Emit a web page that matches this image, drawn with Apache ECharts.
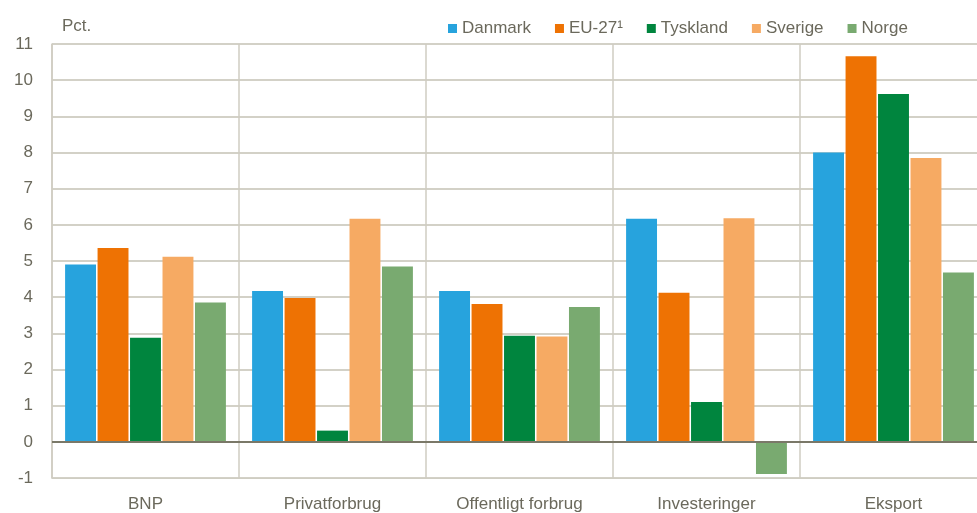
<!DOCTYPE html>
<html>
<head>
<meta charset="utf-8">
<script src="https://cdn.jsdelivr.net/npm/echarts@6/dist/echarts.min.js"></script>
<style>
  html, body { margin: 0; padding: 0; background: #fff; overflow: hidden; }
  #chart { width: 987px; height: 513px; }
</style>
</head>
<body>
<div id="chart"></div>
<script>
const categories = ["BNP", "Privatforbrug", "Offentligt forbrug", "Investeringer", "Eksport"];

const danmark = [4.9, 4.17, 4.17, 6.17, 8.0];
const eu27 = [5.36, 3.98, 3.81, 4.12, 10.66];
const tyskland = [2.88, 0.31, 2.93, 1.1, 9.62];
const sverige = [5.12, 6.17, 2.91, 6.18, 7.85];
const norge = [3.85, 4.85, 3.73, -0.89, 4.68];

const yTicks = [-1, 11, 1]; // min, max, interval

const textColor = "#6b695c";
const font = "'Liberation Sans', Arial, sans-serif";
const fontSize = 17;

// diagrammet er lidt bredere end vinduet, så sidste søjle skæres af som i originalen
const chart = echarts.init(document.getElementById("chart"));

function bar(name, data, color) {
  return {
    name: name,
    type: "bar",
    data: data,
    barGap: "5%",
    barCategoryGap: "14%",
    itemStyle: { color: color },
  };
}

const series = [
  bar("Danmark", danmark, "#27a3dd"),
  bar("EU-27¹", eu27, "#ee7203"),
  bar("Tyskland", tyskland, "#00853e"),
  bar("Sverige", sverige, "#f6aa63"),
  bar("Norge", norge, "#79aa70"),
];

// nul-linjen
series[0].markLine = {
  silent: true,
  symbol: "none",
  label: { show: false },
  lineStyle: { color: "#7a7868", width: 2, type: "solid" },
  data: [{ yAxis: 0 }],
};

const option = {
  animation: false,
  textStyle: { fontFamily: font },
  title: {
    text: "Pct.",
    left: 57,
    top: 13,
    textStyle: { color: textColor, fontSize: fontSize, fontWeight: "normal", fontFamily: font },
  },
  legend: {
    left: 443,
    top: 15,
    icon: "rect",
    itemWidth: 9,
    itemHeight: 9,
    itemGap: 24,
    textStyle: { color: textColor, fontSize: fontSize, fontFamily: font },
  },
  grid: {
    left: 52,
    right: 0,
    top: 44,
    bottom: 35,
  },
  xAxis: {
    type: "category",
    data: categories,
    axisLine: { onZero: false, lineStyle: { color: "#cfcdc2" } },
    axisTick: { show: false },
    axisLabel: { color: textColor, fontSize: fontSize, margin: 18, fontFamily: font },
    splitLine: { show: true, lineStyle: { color: "#cfcdc2", width: 1.5 } },
  },
  yAxis: {
    type: "value",
    min: yTicks[0],
    max: yTicks[1],
    interval: yTicks[2],
    axisLine: { show: true, lineStyle: { color: "#cfcdc2", width: 1.5 } },
    axisTick: { show: false },
    axisLabel: { color: textColor, fontSize: fontSize, margin: 19, fontFamily: font },
    splitLine: { lineStyle: { color: "#c4c2b4", width: 1.5 } },
  },
  series: series,
};

chart.setOption(option);
</script>
</body>
</html>
